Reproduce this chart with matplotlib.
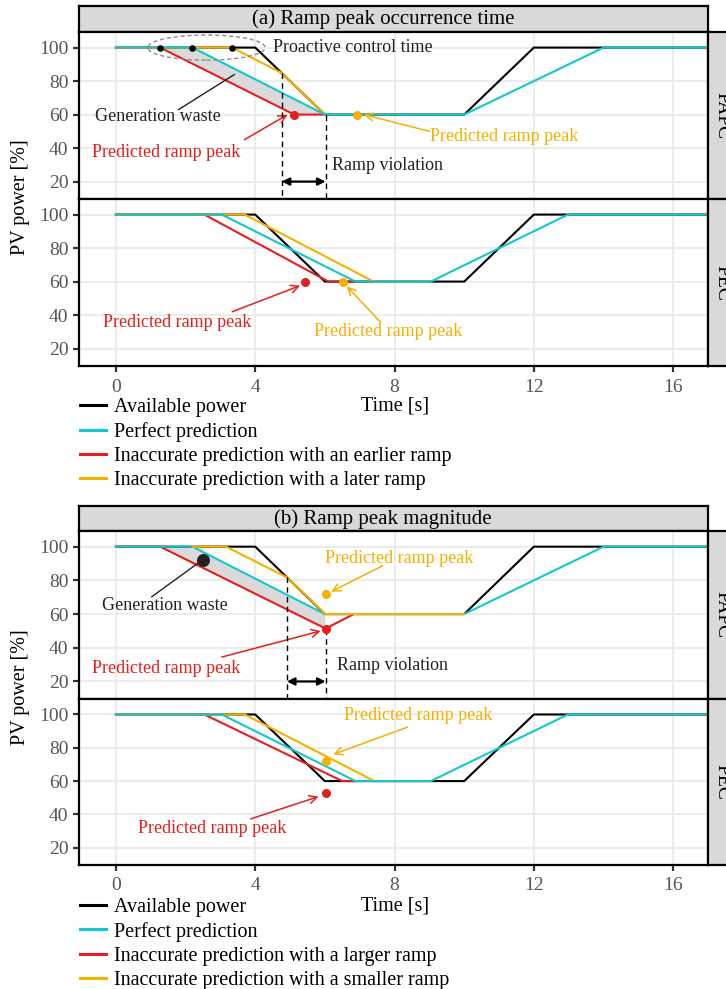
import matplotlib
matplotlib.use("Agg")
import matplotlib.pyplot as plt
from matplotlib.patches import Ellipse
from matplotlib.lines import Line2D

plt.rcParams['font.family'] = ['Liberation Serif', 'DejaVu Serif']

# ---------------- data ----------------
avail_t = [0, 4, 6, 10, 12, 17]
avail_p = [100, 100, 60, 60, 100, 100]

papc_perfect_t = [0, 2.2, 6, 10, 14, 17]
papc_perfect_p = [100, 100, 60, 60, 100, 100]
pec_perfect_t = [0, 3.04, 6.88, 9.04, 12.98, 17]
pec_perfect_p = [100, 100, 60, 60, 100, 100]

# (a) ramp peak occurrence time
a_papc_early_t = [0, 1.27, 5.12, 6]
a_papc_early_p = [100, 100, 60, 60]
a_papc_late_t = [0, 3.34, 4.76, 6]
a_papc_late_p = [100, 100, 84.8, 60]
a_pec_early_t = [0, 2.54, 6.1, 6.9]
a_pec_early_p = [100, 100, 60, 60]
a_pec_late_t = [0, 3.7, 7.4, 9]
a_pec_late_p = [100, 100, 60, 60]
a_waste_t = [1.27, 2.2, 6, 5.12]
a_waste_p = [100, 100, 60, 60]
a_control_dots_t = [1.27, 2.19, 3.34]
a_control_dots_p = [100, 100, 100]
a_papc_red_peak = (5.12, 60)
a_papc_org_peak = (6.91, 60)
a_pec_red_peak = (5.43, 60)
a_pec_org_peak = (6.51, 60)
a_violation = (4.76, 6.02)

# (b) ramp peak magnitude
b_papc_large_t = [0, 1.27, 6.02, 6.83]
b_papc_large_p = [100, 100, 51.4, 60]
b_papc_small_t = [2.2, 3.16, 4.91, 6.02, 10]
b_papc_small_p = [100, 100, 81.8, 60, 60]
b_pec_large_t = [0, 2.54, 6.5, 6.9]
b_pec_large_p = [100, 100, 60, 60]
b_pec_small_t = [0, 3.7, 7.42, 9]
b_pec_small_p = [100, 100, 60, 60]
b_waste_t = [1.27, 2.2, 6.02, 6.02]
b_waste_p = [100, 100, 60, 51.4]
b_waste_dot = (2.49, 92.2)
b_papc_red_peak = (6.02, 51.4)
b_papc_org_peak = (6.02, 71.7)
b_pec_red_peak = (6.02, 52.7)
b_pec_org_peak = (6.02, 72.3)
b_violation = (4.91, 6.02)

x_ticks = [0, 4, 8, 12, 16]
y_ticks = [20, 40, 60, 80, 100]
facets = ["PAPC", "PEC"]

BLACK = "#000000"
CYAN = "#12C8CC"
RED = "#E3201E"
ORANGE = "#F5B000"
TXT = "#222222"

W, H = 726, 989
fig = plt.figure(figsize=(W / 100, H / 100), dpi=100)


def px_axes(left, top, right, bottom, **kw):
    return fig.add_axes([left / W, (H - bottom) / H, (right - left) / W, (bottom - top) / H], **kw)


def style_panel(ax, show_x):
    ax.set_xlim(-1.06, 17.0)
    ax.set_ylim(9.6, 109.3)
    ax.set_xticks(x_ticks)
    ax.set_yticks(y_ticks)
    ax.grid(True, color="#EBEBEB", lw=1.3, zorder=0)
    ax.set_axisbelow(True)
    for s in ax.spines.values():
        s.set_color("black")
        s.set_linewidth(1.6)
    ax.tick_params(axis="both", direction="out", length=4, width=1.6, color="#333333",
                   labelsize=14, labelcolor="#555555")
    ax.tick_params(axis="y", pad=3.5)
    ax.tick_params(axis="x", pad=5)
    if not show_x:
        ax.tick_params(axis="x", length=0, labelbottom=False)


def strip_top(left, top, right, bottom, text):
    sax = px_axes(left, top, right, bottom)
    sax.set_xticks([]); sax.set_yticks([])
    sax.set_facecolor("#D9D9D9")
    for s in sax.spines.values():
        s.set_linewidth(1.6)
    fig.text(383 / W, (H - (top + bottom) / 2 - 0.5) / H, text, ha="center", va="center",
             fontsize=15)


def strip_right(top, bottom, text):
    sax = px_axes(708, top, 736, bottom)
    sax.set_xticks([]); sax.set_yticks([])
    sax.set_facecolor("#D9D9D9")
    for s in sax.spines.values():
        s.set_linewidth(1.6)
    sax.text(0.48, 0.5, text, ha="center", va="center", rotation=-90, fontsize=14,
             transform=sax.transAxes)


def arrow(ax, start, end, color):
    ax.annotate("", xy=end, xytext=start,
                arrowprops=dict(arrowstyle="->", color=color, lw=1.1, mutation_scale=14,
                                shrinkA=0, shrinkB=0))


def violation(ax, xs, ytop, text_xy):
    x1, x2 = xs
    ax.plot([x1, x1], [ytop[0], 9.6], ls=(0, (4, 3)), color="black", lw=1.0, zorder=3)
    ax.plot([x2, x2], [ytop[1], 9.6], ls=(0, (4, 3)), color="black", lw=1.0, zorder=3)
    ax.annotate("", xy=(x2, 20), xytext=(x1, 20),
                arrowprops=dict(arrowstyle="<|-|>", color="black", lw=1.6, mutation_scale=11,
                                shrinkA=0, shrinkB=0))
    ax.text(text_xy[0], text_xy[1], "Ramp violation", ha="left", va="center", fontsize=13, color=TXT)


LW = 1.5

# ================= (a) =================
strip_top(79, 6, 708, 32, "(a) Ramp peak occurrence time")

ax = px_axes(79, 32, 708, 199)
style_panel(ax, False)
ax.fill(a_waste_t, a_waste_p, color="#DADADA", lw=0, zorder=1)
ax.plot(avail_t, avail_p, color=BLACK, lw=LW, zorder=2)
ax.plot(a_papc_early_t, a_papc_early_p, color=RED, lw=LW, zorder=2)
ax.plot(a_papc_late_t, a_papc_late_p, color=ORANGE, lw=LW, zorder=2)
ax.plot(papc_perfect_t, papc_perfect_p, color=CYAN, lw=LW, zorder=2)
ax.scatter(a_control_dots_t, a_control_dots_p, s=14, color="black", zorder=4)
ax.add_patch(Ellipse((2.6, 100), 3.37, 15, fill=False, ls=(0, (3, 2)), lw=1.0,
                     edgecolor="#8C8C8C", zorder=4))
ax.text(4.52, 100, "Proactive control time", ha="left", va="center", fontsize=13, color=TXT)
ax.plot([1.8, 3.4], [63, 83.9], color=TXT, lw=1.0, zorder=3)
ax.text(1.2, 58.6, "Generation waste", ha="center", va="center", fontsize=13, color=TXT)
ax.scatter(*a_papc_red_peak, s=30, color=RED, zorder=5)
ax.scatter(*a_papc_org_peak, s=30, color=ORANGE, zorder=5)
ax.text(1.44, 37.5, "Predicted ramp peak", ha="center", va="center", fontsize=13, color=RED)
arrow(ax, (3.69, 45), (4.93, 60), RED)
ax.text(9.02, 47, "Predicted ramp peak", ha="left", va="center", fontsize=13, color=ORANGE)
arrow(ax, (9.0, 50), (7.12, 60), ORANGE)
violation(ax, a_violation, (84.8, 60), (6.2, 29.7))
strip_right(32, 199, facets[0])

ax = px_axes(79, 199, 708, 366)
style_panel(ax, True)
ax.plot(avail_t, avail_p, color=BLACK, lw=LW, zorder=2)
ax.plot(a_pec_early_t, a_pec_early_p, color=RED, lw=LW, zorder=2)
ax.plot(a_pec_late_t, a_pec_late_p, color=ORANGE, lw=LW, zorder=2)
ax.plot(pec_perfect_t, pec_perfect_p, color=CYAN, lw=LW, zorder=2)
ax.scatter(*a_pec_red_peak, s=30, color=RED, zorder=5)
ax.scatter(*a_pec_org_peak, s=30, color=ORANGE, zorder=5)
ax.text(1.76, 35.3, "Predicted ramp peak", ha="center", va="center", fontsize=13, color=RED)
arrow(ax, (3.34, 42), (5.29, 57.6), RED)
ax.text(7.81, 30.2, "Predicted ramp peak", ha="center", va="center", fontsize=13, color=ORANGE)
arrow(ax, (7.6, 35.7), (6.63, 57.2), ORANGE)
strip_right(199, 366, facets[1])

handles = [Line2D([], [], color=c, lw=2.2) for c in (BLACK, CYAN, RED, ORANGE)]
labels_a = ["Available power", "Perfect prediction",
            "Inaccurate prediction with an earlier ramp", "Inaccurate prediction with a later ramp"]
labels_b = ["Available power", "Perfect prediction",
            "Inaccurate prediction with a larger ramp", "Inaccurate prediction with a smaller ramp"]


def legend(labels, top):
    fig.legend(handles, labels, loc="upper left", bbox_to_anchor=(80 / W, (H - top) / H),
               frameon=False, fontsize=14.5, handlelength=1.3, handletextpad=0.4,
               labelspacing=0.25, borderpad=0, borderaxespad=0)


legend(labels_a, 398)
fig.text(395 / W, (H - 406) / H, "Time [s]", ha="center", va="center", fontsize=14.5)
fig.text(21 / W, (H - 197) / H, "PV power [%]", ha="center", va="center", rotation=90, fontsize=14.5)

# ================= (b) =================
strip_top(79, 506, 708, 531, "(b) Ramp peak magnitude")

ax = px_axes(79, 531, 708, 699)
style_panel(ax, False)
ax.fill(b_waste_t, b_waste_p, color="#DADADA", lw=0, zorder=1)
ax.plot(avail_t, avail_p, color=BLACK, lw=LW, zorder=2)
ax.plot(b_papc_large_t, b_papc_large_p, color=RED, lw=LW, zorder=2)
ax.plot(papc_perfect_t, papc_perfect_p, color=CYAN, lw=LW, zorder=2)
ax.plot(b_papc_small_t, b_papc_small_p, color=ORANGE, lw=LW, zorder=2)
ax.scatter(*b_waste_dot, s=70, color="#222222", zorder=5)
ax.plot([1.03, 2.49], [70.3, 92.2], color=TXT, lw=1.0, zorder=3)
ax.text(1.4, 64.8, "Generation waste", ha="center", va="center", fontsize=13, color=TXT)
ax.scatter(*b_papc_red_peak, s=30, color=RED, zorder=5)
ax.scatter(*b_papc_org_peak, s=30, color=ORANGE, zorder=5)
ax.text(8.13, 93.2, "Predicted ramp peak", ha="center", va="center", fontsize=13, color=ORANGE)
arrow(ax, (7.66, 88.7), (6.18, 73.3), ORANGE)
ax.text(1.44, 27.6, "Predicted ramp peak", ha="center", va="center", fontsize=13, color=RED)
arrow(ax, (3.04, 34.5), (5.88, 50), RED)
violation(ax, b_violation, (81.8, 51.4), (6.35, 29.2))
strip_right(531, 699, facets[0])

ax = px_axes(79, 699, 708, 865)
style_panel(ax, True)
ax.plot(avail_t, avail_p, color=BLACK, lw=LW, zorder=2)
ax.plot(b_pec_large_t, b_pec_large_p, color=RED, lw=LW, zorder=2)
ax.plot(b_pec_small_t, b_pec_small_p, color=ORANGE, lw=LW, zorder=2)
ax.plot(pec_perfect_t, pec_perfect_p, color=CYAN, lw=LW, zorder=2)
ax.scatter(*b_pec_red_peak, s=30, color=RED, zorder=5)
ax.scatter(*b_pec_org_peak, s=30, color=ORANGE, zorder=5)
ax.text(8.69, 99.4, "Predicted ramp peak", ha="center", va="center", fontsize=13, color=ORANGE)
arrow(ax, (8.37, 92.4), (6.24, 76), ORANGE)
ax.text(2.77, 31.3, "Predicted ramp peak", ha="center", va="center", fontsize=13, color=RED)
arrow(ax, (3.87, 37.3), (5.82, 50.7), RED)
strip_right(699, 865, facets[1])

legend(labels_b, 897.5)
fig.text(395 / W, (H - 906) / H, "Time [s]", ha="center", va="center", fontsize=14.5)
fig.text(21 / W, (H - 687) / H, "PV power [%]", ha="center", va="center", rotation=90, fontsize=14.5)

fig.savefig("out.png", dpi=100)
